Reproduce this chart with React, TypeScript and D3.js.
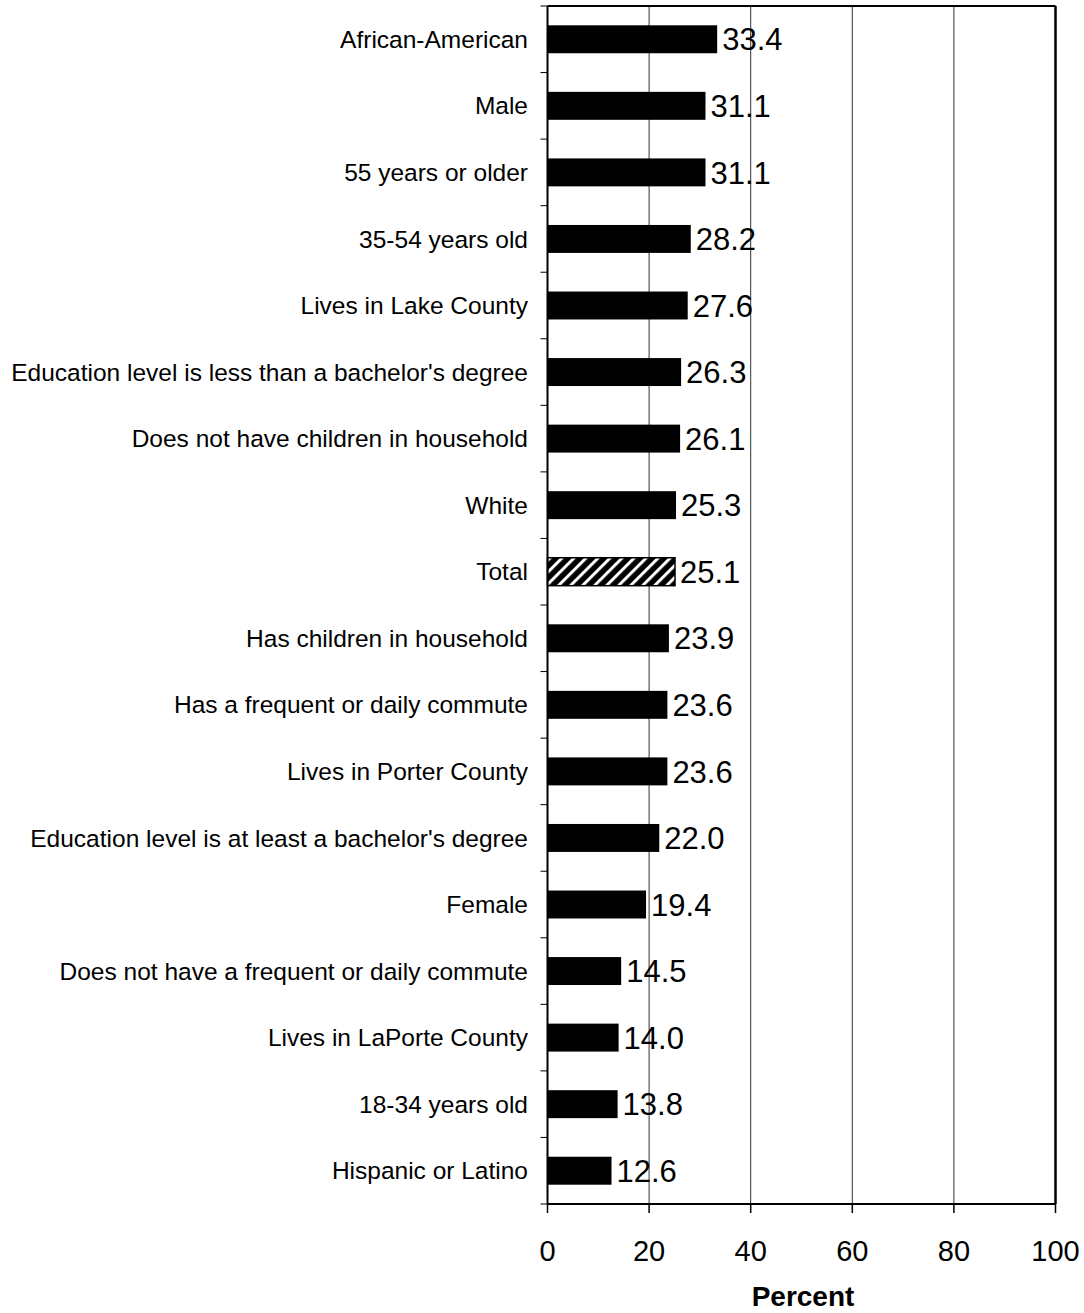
import React from "react";
import * as d3 from "d3";

const categories = [
  "African-American",
  "Male",
  "55 years or older",
  "35-54 years old",
  "Lives in Lake County",
  "Education level is less than a bachelor's degree",
  "Does not have children in household",
  "White",
  "Total",
  "Has children in household",
  "Has a frequent or daily commute",
  "Lives in Porter County",
  "Education level is at least a bachelor's degree",
  "Female",
  "Does not have a frequent or daily commute",
  "Lives in LaPorte County",
  "18-34 years old",
  "Hispanic or Latino",
];
const values = [33.4, 31.1, 31.1, 28.2, 27.6, 26.3, 26.1, 25.3, 25.1, 23.9, 23.6, 23.6, 22.0, 19.4, 14.5, 14.0, 13.8, 12.6];
const xTicks = [0, 20, 40, 60, 80, 100];
const highlight = "Total";

export default function App() {
  const W = 1084, H = 1313;
  const left = 547.5, right = 1055.5, top = 6, bottom = 1204;
  const x = d3.scaleLinear().domain([0, 100]).range([left, right]);
  const y = d3.scaleBand().domain(categories).range([top, bottom]).paddingInner(0.58).paddingOuter(0.29);
  const band = (bottom - top) / categories.length;
  const font = "Arial, 'Liberation Sans', sans-serif";
  return (
    <svg width={W} height={H} style={{ position: "absolute", left: 0, top: 0, display: "block" }}>
      <defs>
        <pattern id="hatch" patternUnits="userSpaceOnUse" width={8.5} height={8.5} patternTransform="rotate(45)">
          <rect width={8.5} height={8.5} fill="#000" />
          <rect x={0} y={0} width={3} height={8.5} fill="#fff" />
        </pattern>
      </defs>
      <rect x={0} y={0} width={W} height={H} fill="#fff" />
      {xTicks.filter((t) => t > 0 && t < 100).map((t) => (
        <line key={t} x1={x(t)} x2={x(t)} y1={top} y2={bottom} stroke="#333" strokeWidth={1} />
      ))}
      {categories.map((c, i) => (
        <rect
          key={c}
          x={x(0)}
          y={y(c)!}
          width={x(values[i]) - x(0)}
          height={y.bandwidth()}
          fill={c === highlight ? "url(#hatch)" : "#000"}
          stroke="#000"
          strokeWidth={c === highlight ? 1.5 : 0}
        />
      ))}
      <line x1={left} x2={right} y1={top} y2={top} stroke="#000" strokeWidth={2} />
      <line x1={right} x2={right} y1={top} y2={bottom} stroke="#000" strokeWidth={2.5} />
      <line x1={left} x2={left} y1={top} y2={bottom} stroke="#000" strokeWidth={2} />
      <line x1={left} x2={right} y1={bottom} y2={bottom} stroke="#000" strokeWidth={2} />
      {d3.range(categories.length + 1).map((i) => (
        <line key={i} x1={left - 7} x2={left} y1={top + i * band} y2={top + i * band} stroke="#000" strokeWidth={1} />
      ))}
      {xTicks.map((t) => (
        <g key={t}>
          <line x1={x(t)} x2={x(t)} y1={bottom} y2={bottom + 9} stroke="#000" strokeWidth={1.5} />
          <text x={x(t)} y={1261} textAnchor="middle" fontFamily={font} fontSize={29} fill="#000">{t}</text>
        </g>
      ))}
      {categories.map((c) => (
        <text key={c} x={528} y={y(c)! + y.bandwidth() / 2} dy="0.35em" textAnchor="end" fontFamily={font} fontSize={24.5} fill="#000">{c}</text>
      ))}
      {categories.map((c, i) => (
        <text key={c} x={x(values[i]) + 5} y={y(c)! + y.bandwidth() / 2} dy="0.36em" fontFamily={font} fontSize={31} fill="#000">{values[i].toFixed(1)}</text>
      ))}
      <text x={803} y={1306} textAnchor="middle" fontFamily={font} fontSize={28} fontWeight="bold" fill="#000">Percent</text>
    </svg>
  );
}
